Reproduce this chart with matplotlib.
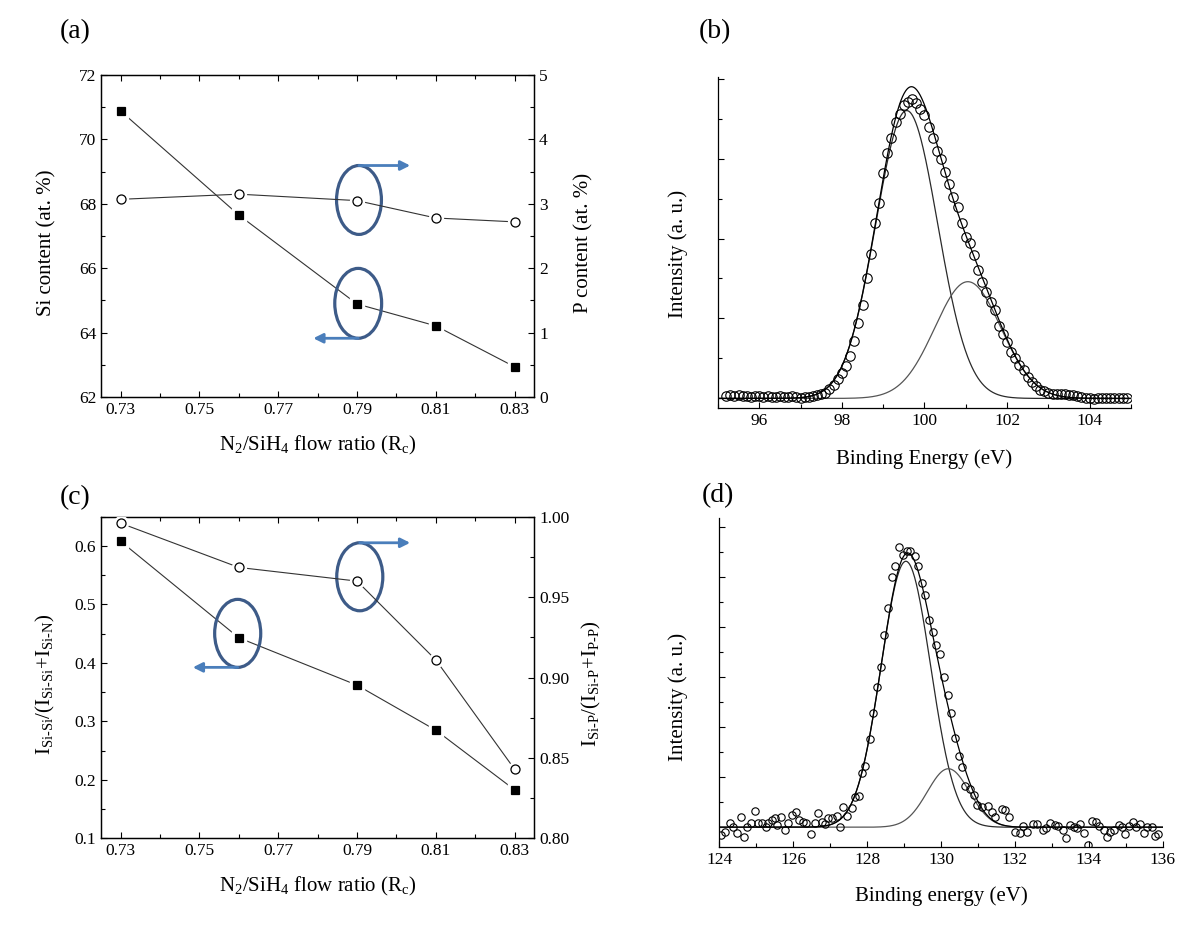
import numpy as np
import matplotlib
matplotlib.use('Agg')
import matplotlib.pyplot as plt
from matplotlib.patches import Ellipse
from matplotlib.ticker import MultipleLocator, FormatStrFormatter

plt.rcParams['font.family'] = ['Liberation Serif', 'DejaVu Serif']
plt.rcParams['mathtext.fontset'] = 'custom'
plt.rcParams['mathtext.rm'] = 'Liberation Serif'
plt.rcParams['mathtext.it'] = 'Liberation Serif:italic'

# --- (a) and (c): composition vs N2/SiH4 flow ratio ---
flow_ratio = [0.73, 0.76, 0.79, 0.81, 0.83]
si_content = [70.88, 67.65, 64.89, 64.21, 62.94]      # at. %
p_content = [3.07, 3.15, 3.05, 2.78, 2.72]            # at. %
sisi_ratio = [0.608, 0.443, 0.362, 0.285, 0.183]      # I_SiSi/(I_SiSi+I_SiN)
sip_ratio = [0.996, 0.9685, 0.960, 0.911, 0.843]      # I_SiP/(I_SiP+I_PP)

# --- (b): Si 2p spectrum ---
si2p_energy = [95.2, 95.3, 95.4, 95.5, 95.6, 95.7, 95.8, 95.9, 96.0, 96.1,
               96.2, 96.3, 96.4, 96.5, 96.6, 96.7, 96.8, 96.9, 97.0, 97.1,
               97.2, 97.3, 97.4, 97.5, 97.6, 97.7, 97.8, 97.9, 98.0, 98.1,
               98.2, 98.3, 98.4, 98.5, 98.6, 98.7, 98.8, 98.9, 99.0, 99.1,
               99.2, 99.3, 99.4, 99.5, 99.6, 99.7, 99.8, 99.9, 100.0, 100.1,
               100.2, 100.3, 100.4, 100.5, 100.6, 100.7, 100.8, 100.9, 101.0, 101.1,
               101.2, 101.3, 101.4, 101.5, 101.6, 101.7, 101.8, 101.9, 102.0, 102.1,
               102.2, 102.3, 102.4, 102.5, 102.6, 102.7, 102.8, 102.9, 103.0, 103.1,
               103.2, 103.3, 103.4, 103.5, 103.6, 103.7, 103.8, 103.9, 104.0, 104.1,
               104.2, 104.3, 104.4, 104.5, 104.6, 104.7, 104.8, 104.9]
si2p_counts = [0.03, 0.04, 0.03, 0.04, 0.03, 0.03, 0.02, 0.03, 0.03, 0.02,
               0.03, 0.02, 0.02, 0.03, 0.02, 0.02, 0.03, 0.02, 0.01, 0.02,
               0.02, 0.03, 0.04, 0.05, 0.07, 0.12, 0.17, 0.24, 0.32, 0.40,
               0.53, 0.72, 0.94, 1.17, 1.51, 1.81, 2.20, 2.44, 2.82, 3.07,
               3.26, 3.46, 3.56, 3.67, 3.71, 3.74, 3.70, 3.62, 3.54, 3.40,
               3.26, 3.10, 2.99, 2.83, 2.68, 2.52, 2.40, 2.19, 2.02, 1.94,
               1.79, 1.60, 1.45, 1.33, 1.20, 1.10, 0.90, 0.81, 0.71, 0.58,
               0.50, 0.42, 0.35, 0.27, 0.20, 0.15, 0.11, 0.09, 0.07, 0.06,
               0.06, 0.05, 0.05, 0.04, 0.04, 0.03, 0.02, 0.01, 0.00, -0.01,
               0.00, 0.00, 0.01, 0.00, 0.01, 0.00, 0.00, 0.00]
si2p_centers = [99.57, 101.05]
si2p_heights = [3.60, 1.46]
si2p_sigmas = [0.75, 0.80]

# --- (d): P 2p spectrum ---
p2p_energy = [124.06, 124.15, 124.29, 124.36, 124.47, 124.58, 124.67, 124.76, 124.86, 124.97,
              125.06, 125.15, 125.26, 125.33, 125.42, 125.51, 125.57, 125.66, 125.78, 125.85,
              125.96, 126.08, 126.17, 126.27, 126.36, 126.47, 126.59, 126.68, 126.77, 126.86,
              126.95, 127.04, 127.18, 127.27, 127.36, 127.47, 127.58, 127.67, 127.78, 127.87,
              127.95, 128.08, 128.17, 128.28, 128.38, 128.47, 128.56, 128.67, 128.76, 128.87,
              128.98, 129.08, 129.17, 129.30, 129.39, 129.48, 129.57, 129.68, 129.78, 129.87,
              129.98, 130.07, 130.18, 130.28, 130.39, 130.48, 130.57, 130.66, 130.78, 130.89,
              130.97, 131.10, 131.26, 131.37, 131.46, 131.64, 131.73, 131.85,
              132.00, 132.14, 132.21, 132.34, 132.48, 132.61, 132.75, 132.84, 132.95, 133.09,
              133.18, 133.30, 133.39, 133.48, 133.59, 133.68, 133.77, 133.88, 133.99, 134.08,
              134.20, 134.29, 134.40, 134.49, 134.58, 134.69, 134.81, 134.90, 134.99, 135.10,
              135.19, 135.28, 135.39, 135.49, 135.58, 135.70, 135.79, 135.88]
p2p_counts = [-0.15, -0.09, 0.09, 0.01, -0.12, 0.21, -0.20, 0.01, 0.09, 0.33,
              0.09, 0.09, 0.01, 0.09, 0.15, 0.18, 0.05, 0.21, -0.05, 0.09,
              0.25, 0.31, 0.15, 0.11, 0.08, -0.13, 0.08, 0.28, 0.11, 0.07,
              0.18, 0.18, 0.23, 0.01, 0.40, 0.22, 0.38, 0.61, 0.63, 1.08,
              1.23, 1.76, 2.28, 2.81, 3.21, 3.85, 4.38, 5.01, 5.23, 5.60,
              5.45, 5.53, 5.52, 5.43, 5.23, 4.89, 4.65, 4.15, 3.91, 3.65,
              3.46, 3.01, 2.65, 2.29, 1.78, 1.43, 1.21, 0.83, 0.76, 0.65,
              0.45, 0.40, 0.43, 0.30, 0.20, 0.37, 0.35, 0.20,
              -0.09, -0.12, 0.03, -0.09, 0.07, 0.07, -0.05, -0.02, 0.08, 0.05,
              0.03, -0.05, -0.22, 0.05, 0.01, -0.02, 0.07, -0.12, -0.35, 0.13,
              0.11, 0.03, -0.05, -0.19, -0.09, -0.05, 0.05, 0.01, -0.13, 0.03,
              0.11, 0.01, 0.07, -0.12, 0.01, 0.01, -0.17, -0.13]
p2p_centers = [129.05, 130.20]
p2p_heights = [5.32, 1.17]
p2p_sigmas = [0.67, 0.57]

ELL_COLOR = '#3d5b88'
ARR_COLOR = '#4a7ebb'
TICK_FS = 12.5
LABEL_FS = 15


def gauss(x, c, h, s):
    return h * np.exp(-(x - c) ** 2 / (2 * s ** 2))


def series(ax, x, y, marker, ms, face):
    # thin line with small gaps around the symbols
    ax.plot(x, y, '-', color='#333333', lw=0.8, zorder=2)
    ax.plot(x, y, ls='none', marker=marker, ms=ms + 3.5, mfc='white', mec='white', zorder=3)
    ax.plot(x, y, ls='none', marker=marker, ms=ms, mfc=face, mec='black', mew=0.9, zorder=4)


def ellipse_arrow(ax, cx, cy, w, h, x_end, top):
    ax.add_patch(Ellipse((cx, cy), w, h, fill=False, ec=ELL_COLOR, lw=2.3, zorder=6))
    y0 = cy + h / 2 if top else cy - h / 2
    ax.annotate('', xy=(x_end, y0), xytext=(cx, y0),
                arrowprops=dict(arrowstyle='-|>', color=ARR_COLOR, lw=2.0,
                                mutation_scale=14, shrinkA=0, shrinkB=0), zorder=6)


def ratio_panel(ax, left_y, right_y, ylim_l, ylim_r, loc_l, loc_r, fmt_l, fmt_r, lab_l, lab_r, rx):
    ax2 = ax.twinx()
    series(ax, flow_ratio, left_y, 's', 6.0, 'black')
    series(ax2, flow_ratio, right_y, 'o', 6.5, 'white')
    ax.set_xlim(0.725, 0.835)
    ax.set_ylim(*ylim_l)
    ax2.set_ylim(*ylim_r)
    ax.xaxis.set_minor_locator(MultipleLocator(0.01))
    ax.set_xticks([0.73, 0.75, 0.77, 0.79, 0.81, 0.83])
    ax.xaxis.set_major_formatter(FormatStrFormatter('%.2f'))
    ax.yaxis.set_major_locator(MultipleLocator(loc_l))
    ax.yaxis.set_minor_locator(MultipleLocator(loc_l / 2))
    ax.yaxis.set_major_formatter(FormatStrFormatter(fmt_l))
    ax2.yaxis.set_major_locator(MultipleLocator(loc_r))
    ax2.yaxis.set_minor_locator(MultipleLocator(loc_r / 2))
    ax2.yaxis.set_major_formatter(FormatStrFormatter(fmt_r))
    ax.tick_params(which='both', direction='in', top=True, right=False, labelsize=TICK_FS)
    ax.tick_params(which='major', length=4.5, width=0.8)
    ax.tick_params(which='minor', length=3, width=0.8)
    ax2.tick_params(which='both', direction='in', labelsize=TICK_FS)
    ax2.tick_params(which='major', length=4.5, width=0.8)
    ax2.tick_params(which='minor', length=3, width=0.8)
    for a in (ax, ax2):
        for sp in a.spines.values():
            sp.set_linewidth(0.9)
    ax.set_xlabel(r'N$_\mathregular{2}$/SiH$_\mathregular{4}$ flow ratio (R$_\mathregular{c}$)',
                  fontsize=LABEL_FS)
    ax.xaxis.set_label_coords(0.5, -0.115)
    ax.set_ylabel(lab_l, fontsize=LABEL_FS)
    ax.yaxis.set_label_coords(-0.102, 0.48)
    ax2.set_ylabel(lab_r, fontsize=LABEL_FS)
    ax2.yaxis.set_label_coords(rx, 0.48)
    return ax2


def spectrum_panel(ax, energy, counts, centers, heights, sigmas, xlim, ylim, ms, xlabel):
    grid = np.linspace(xlim[0], xlim[1], 800)
    comps = [gauss(grid, c, h, s) for c, h, s in zip(centers, heights, sigmas)]
    ax.plot(energy, counts, ls='none', marker='o', ms=ms, mfc='none', mec='black', mew=0.8,
            zorder=3)
    ax.plot(grid, comps[0], color='#2a2a2a', lw=0.9, zorder=2)
    ax.plot(grid, comps[1], color='#555555', lw=0.9, zorder=2)
    ax.plot(grid, comps[0] + comps[1], color='black', lw=0.9, zorder=4)
    ax.set_xlim(*xlim)
    ax.set_ylim(*ylim)
    ax.xaxis.set_major_locator(MultipleLocator(2))
    ax.xaxis.set_minor_locator(MultipleLocator(1))
    ax.yaxis.set_major_locator(MultipleLocator(1))
    ax.yaxis.set_minor_locator(MultipleLocator(0.5))
    ax.spines['top'].set_visible(False)
    ax.spines['right'].set_visible(False)
    for sp in ('left', 'bottom'):
        ax.spines[sp].set_linewidth(0.9)
    ax.tick_params(which='both', direction='in', top=False, right=False, labelsize=TICK_FS)
    ax.tick_params(axis='y', labelleft=False)
    ax.tick_params(which='major', length=4.5, width=0.8)
    ax.tick_params(which='minor', length=3, width=0.8)
    ax.set_xlabel(xlabel, fontsize=LABEL_FS)
    ax.set_ylabel('Intensity (a. u.)', fontsize=LABEL_FS)


fig = plt.figure(figsize=(12, 9.32), dpi=100)
ax_a = fig.add_axes([0.0842, 0.574, 0.361, 0.3455])
ax_b = fig.add_axes([0.5983, 0.5622, 0.3442, 0.3552])
ax_c = fig.add_axes([0.0842, 0.1005, 0.361, 0.345])
ax_d = fig.add_axes([0.5994, 0.0915, 0.3695, 0.3524])

# (a)
ratio_panel(ax_a, si_content, p_content, (62, 72), (0, 5), 2, 1, '%d', '%d',
            'Si content (at. %)', 'P content (at. %)', 1.092)
ellipse_arrow(ax_a, 0.7905, 68.12, 0.0114, 2.14, 0.8035, True)
ellipse_arrow(ax_a, 0.7903, 64.91, 0.0119, 2.17, 0.7789, False)

# (c)
ratio_panel(ax_c, sisi_ratio, sip_ratio, (0.1, 0.65), (0.8, 1.0), 0.1, 0.05, '%.1f', '%.2f',
            r'I$_\mathregular{Si\text{-}Si}$/(I$_\mathregular{Si\text{-}Si}$+I$_\mathregular{Si\text{-}N}$)',
            r'I$_\mathregular{Si\text{-}P}$/(I$_\mathregular{Si\text{-}P}$+I$_\mathregular{P\text{-}P}$)',
            1.105)
ellipse_arrow(ax_c, 0.7907, 0.5474, 0.0117, 0.1163, 0.8035, True)
ellipse_arrow(ax_c, 0.7597, 0.4506, 0.0117, 0.1163, 0.7483, False)

# (b)
spectrum_panel(ax_b, si2p_energy, si2p_counts, si2p_centers, si2p_heights, si2p_sigmas,
               (95, 105), (-0.12, 4.02), 6.8, 'Binding Energy (eV)')
ax_b.xaxis.set_label_coords(0.5, -0.125)
ax_b.yaxis.set_label_coords(-0.073, 0.465)

# (d)
spectrum_panel(ax_d, p2p_energy, p2p_counts, p2p_centers, p2p_heights, p2p_sigmas,
               (124, 136), (-0.39, 6.18), 5.3, 'Binding energy (eV)')
ax_d.xaxis.set_label_coords(0.5, -0.12)
ax_d.yaxis.set_label_coords(-0.071, 0.455)

for lab, x, y in [('(a)', 0.063, 0.966), ('(b)', 0.596, 0.966),
                  ('(c)', 0.0625, 0.466), ('(d)', 0.598, 0.468)]:
    fig.text(x, y, lab, fontsize=20, ha='center', va='center')

fig.savefig('out.png', dpi=100)
